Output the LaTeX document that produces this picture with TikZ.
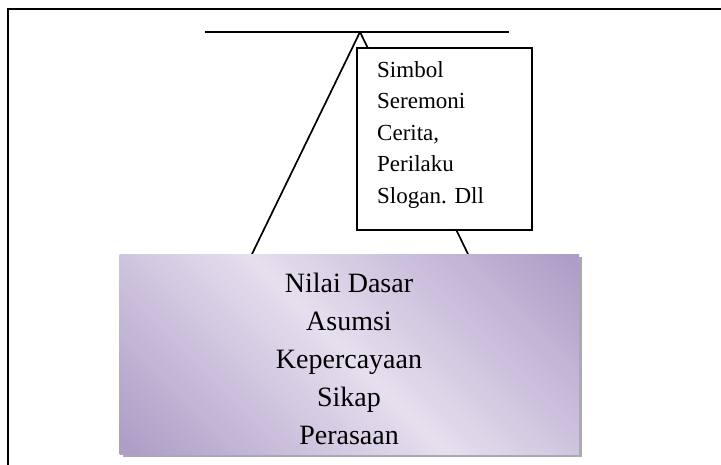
\documentclass[tikz,border=0pt]{standalone}
\usepackage{fontspec}
\setmainfont{Liberation Serif}
\usetikzlibrary{shadows}
\definecolor{purpD}{RGB}{174,158,199}
\definecolor{purpL}{RGB}{230,223,238}
\definecolor{shadowgray}{RGB}{170,170,170}
\pgfdeclareverticalshading{lavenderband}{100bp}{color(0bp)=(purpD); color(16bp)=(purpD); color(50bp)=(purpL); color(84bp)=(purpD); color(100bp)=(purpD)}
\begin{document}
\begin{tikzpicture}[x=1pt,y=-1pt,
  frameline/.style={line width=2.3pt},
  conn/.style={line width=1.7pt},
  artbox/.style={draw, line width=2pt, fill=white, minimum width=175pt, minimum height=182pt, inner sep=0pt},
  basebox/.style={minimum width=459.5pt, minimum height=200pt, inner sep=0pt,
    shading=lavenderband, shading angle=-45,
    drop shadow={shadow xshift=3pt, shadow yshift=-3pt, fill=shadowgray, opacity=1}},
  arttextstyle/.style={anchor=west, align=left, inner sep=0pt, font=\fontsize{23}{31.5}\selectfont},
  basetextstyle/.style={align=center, inner sep=0pt, font=\fontsize{28}{38}\selectfont}
]
\useasboundingbox (0,0) rectangle (721,464);
\clip (0,0) rectangle (721,464);
\draw[frameline] (8,9) rectangle (740,480);
\coordinate (topL) at (205,32);
\coordinate (topR) at (509,32);
\coordinate (apex) at (360,32);
\coordinate (footL) at (252,254);
\coordinate (footR) at (468,254);
\draw[conn] (topL) -- (topR);
\draw[conn] (apex) -- (footL);
\draw[conn] (apex) -- (footR);
\node[artbox] (art) at (444.5,139) {};
\node[arttextstyle] (arttext) at (377,134.5) {Simbol\\Seremoni\\Cerita,\\Perilaku\\Slogan. Dll};
\node[basebox] (base) at (349.25,354) {};
\node[basetextstyle] (basetext) at (349,359) {Nilai Dasar\\Asumsi\\Kepercayaan\\Sikap\\Perasaan};
\end{tikzpicture}
\end{document}
